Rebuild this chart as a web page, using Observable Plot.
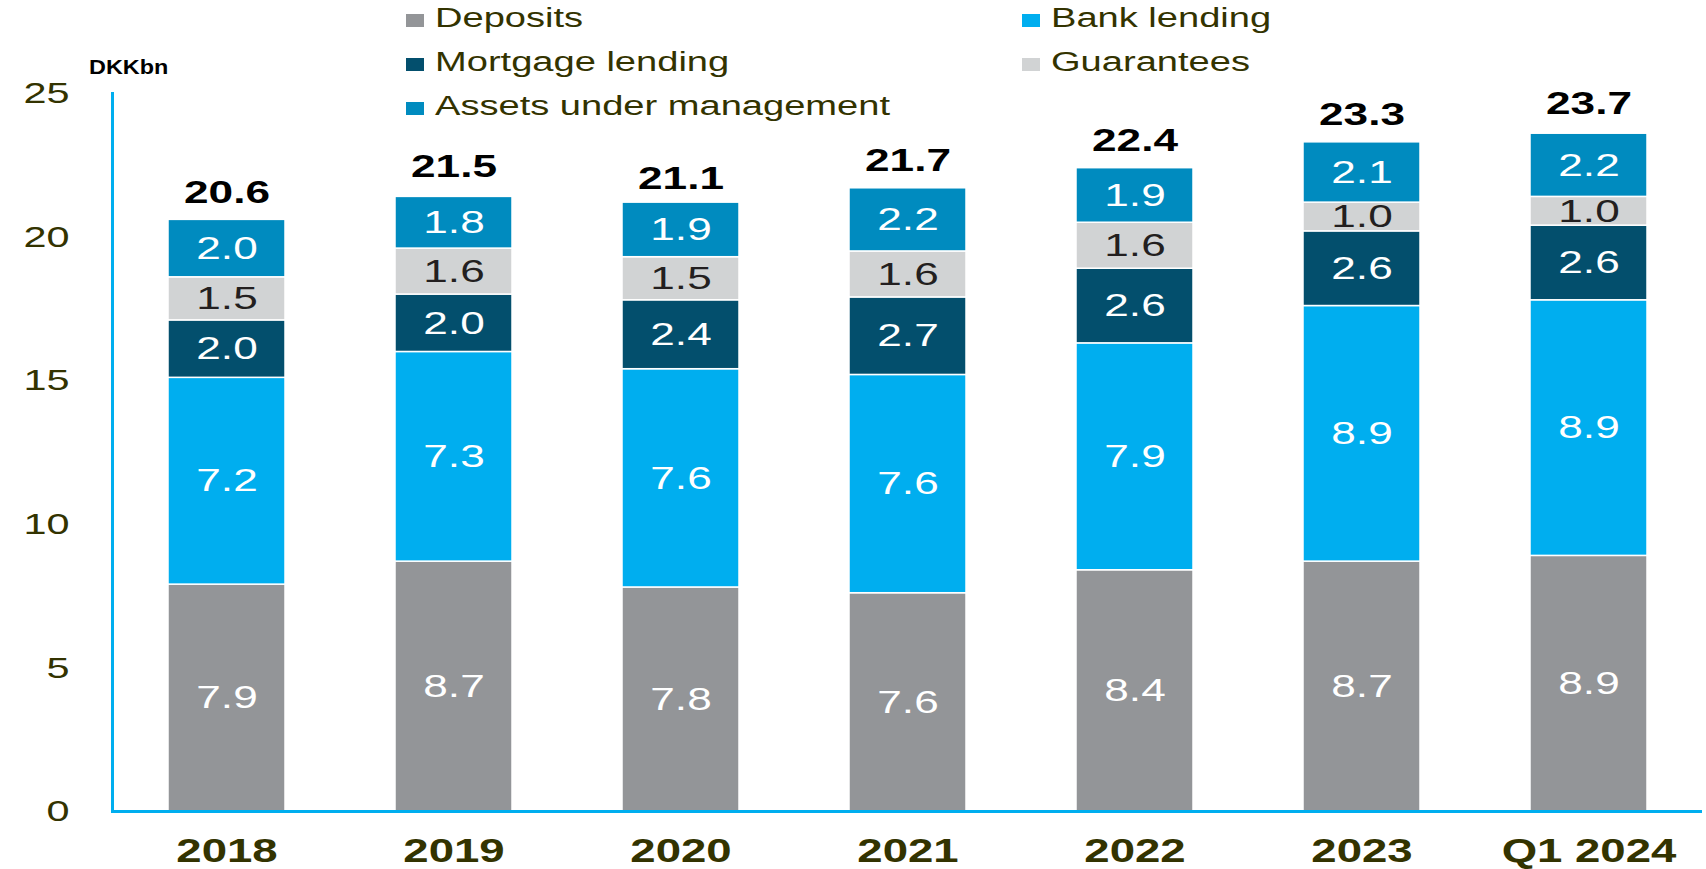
<!DOCTYPE html>
<html>
<head>
<meta charset="utf-8">
<script src="https://cdn.jsdelivr.net/npm/d3@7"></script>
<script src="https://cdn.jsdelivr.net/npm/@observablehq/plot@0.6"></script>
<style>
  html, body { margin: 0; padding: 0; background: white; }
  #wrap { position: relative; width: 1706px; height: 869px; overflow: hidden; }
  #overlay { position: absolute; left: 0; top: 0; pointer-events: none; }
</style>
</head>
<body>
<div id="wrap"></div>
<script>
const categories = ["2018", "2019", "2020", "2021", "2022", "2023", "Q1 2024"];
const series = ["Deposits", "Bank lending", "Mortgage lending", "Guarantees", "Assets under management"];
const seriesColors = ["#939598", "#00AEEF", "#034F6D", "#D1D3D4", "#008BBF"];
const deposits = [7.9, 8.7, 7.8, 7.6, 8.4, 8.7, 8.9];
const bankLending = [7.2, 7.3, 7.6, 7.6, 7.9, 8.9, 8.9];
const mortgageLending = [2.0, 2.0, 2.4, 2.7, 2.6, 2.6, 2.6];
const guarantees = [1.5, 1.6, 1.5, 1.6, 1.6, 1.0, 1.0];
const assetsUnderManagement = [2.0, 1.8, 1.9, 2.2, 1.9, 2.1, 2.2];
const totals = [20.6, 21.5, 21.1, 21.7, 22.4, 23.3, 23.7];
const yTicks = [0, 5, 10, 15, 20, 25];
const unitLabel = "DKKbn";

const valuesBySeries = [deposits, bankLending, mortgageLending, guarantees, assetsUnderManagement];
const colorOf = Object.fromEntries(series.map((s, i) => [s, seriesColors[i]]));
const data = categories.flatMap((c, i) =>
  series.map((s, j) => ({category: c, series: s, value: valuesBySeries[j][i]}))
);
const totalRows = categories.map((c, i) => ({category: c, total: totals[i]}));
const fmt = d3.format(".1f");
const olive = "#333300";
const axisBlue = "#00AEEF";

const chart = Plot.plot({
  width: 1706,
  height: 869,
  marginTop: 93,
  marginBottom: 58,
  marginLeft: 112,
  marginRight: 4,
  style: {fontFamily: "'Liberation Sans', Arial, sans-serif", background: "white"},
  x: {domain: categories, paddingInner: 0.485, paddingOuter: 0.2425, label: null},
  y: {domain: [0, 25], label: null},
  color: {type: "identity"},
  marks: [
    Plot.barY(data, Plot.stackY({
      x: "category", y: "value", z: "series",
      fill: d => colorOf[d.series], stroke: "white", strokeWidth: 1.5
    })),
    Plot.text(data, Plot.stackY({
      x: "category", y: "value", z: "series",
      text: d => fmt(d.value),
      fill: d => d.series === "Guarantees" ? "#231f20" : "white",
      fontSize: 32
    })),
    Plot.text(totalRows, {
      x: "category", y: "total", text: d => fmt(d.total),
      dy: -17, lineAnchor: "bottom", fontSize: 32, fontWeight: "bold", fill: "black"
    }),
    Plot.ruleY([0], {stroke: axisBlue, strokeWidth: 3}),
    Plot.frame({anchor: "left", stroke: axisBlue, strokeWidth: 3}),
    Plot.axisY({ticks: yTicks, tickSize: 0, tickPadding: 43, fontSize: 30, fill: olive, label: null, tickFormat: d => String(d)}),
    Plot.axisX({tickSize: 0, tickPadding: 27, fontSize: 33, fontWeight: "bold", fill: olive, label: null})
  ]
});

const wrap = document.getElementById("wrap");
wrap.appendChild(chart);

// Overlay: legend and unit label
const ns = "http://www.w3.org/2000/svg";
const ov = document.createElementNS(ns, "svg");
ov.setAttribute("id", "overlay");
ov.setAttribute("width", 1706);
ov.setAttribute("height", 869);
ov.style.fontFamily = "'Liberation Sans', Arial, sans-serif";
wrap.appendChild(ov);

const colX = [406, 1022];
const rowBase = [27, 71, 115];
series.forEach((s, i) => {
  const col = i % 2, row = Math.floor(i / 2);
  const r = document.createElementNS(ns, "rect");
  r.setAttribute("x", colX[col]);
  r.setAttribute("y", rowBase[row] - 13);
  r.setAttribute("width", 18);
  r.setAttribute("height", 13);
  r.setAttribute("fill", seriesColors[i]);
  ov.appendChild(r);
  const t = document.createElementNS(ns, "text");
  t.setAttribute("x", colX[col] + 29);
  t.setAttribute("y", rowBase[row]);
  t.setAttribute("font-size", 27);
  t.setAttribute("fill", olive);
  t.setAttribute("class", "stretch");
  t.textContent = s;
  ov.appendChild(t);
});
const u = document.createElementNS(ns, "text");
u.setAttribute("x", 89);
u.setAttribute("y", 74);
u.setAttribute("font-size", 20);
u.setAttribute("font-weight", "bold");
u.setAttribute("fill", "black");
u.setAttribute("data-k", "1.17");
u.textContent = unitLabel;
ov.appendChild(u);

// Horizontal stretch of text to mimic the reference's widened type
function stretch(el, k) {
  const L = el.getComputedTextLength();
  if (L > 0) {
    el.setAttribute("textLength", L * k);
    el.setAttribute("lengthAdjust", "spacingAndGlyphs");
  }
}
chart.querySelectorAll("text").forEach(el => {
  if (el.querySelector("tspan")) el.querySelectorAll("tspan").forEach(ts => stretch(ts, 1.38));
  else stretch(el, 1.38);
});
ov.querySelectorAll("text").forEach(el => stretch(el, el.getAttribute("data-k") ? +el.getAttribute("data-k") : 1.41));
</script>
</body>
</html>
